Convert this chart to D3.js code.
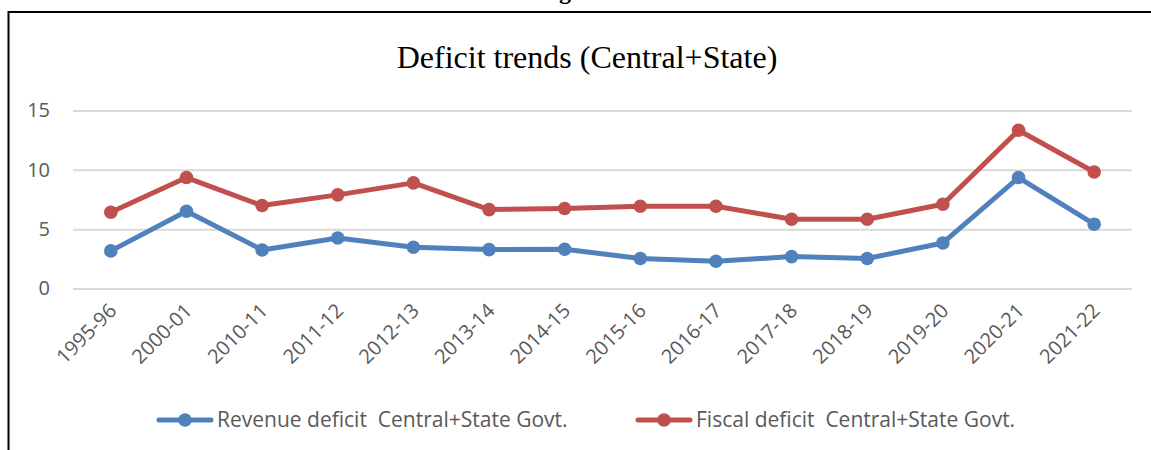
<!DOCTYPE html>
<html lang="en">
<head>
  <meta charset="utf-8">
  <script src="https://d3js.org/d3.v7.min.js"></script>
  <style>
    body { margin: 0; background: #fff; }
  </style>
</head>
<body>
  <div id="chart"></div>
  <script>
    "use strict";

    // dados
    var anos = ["1995-96", "2000-01", "2010-11", "2011-12", "2012-13", "2013-14", "2014-15",
                "2015-16", "2016-17", "2017-18", "2018-19", "2019-20", "2020-21", "2021-22"];
    var revenueDeficit = [3.17, 6.51, 3.25, 4.26, 3.48, 3.28, 3.31, 2.53, 2.30, 2.69, 2.53, 3.84, 9.35, 5.42];
    var fiscalDeficit  = [6.43, 9.35, 6.99, 7.89, 8.90, 6.65, 6.74, 6.93, 6.93, 5.84, 5.84, 7.10, 13.34, 9.82];
    var yTicks = [0, 5, 10, 15];
    var series = [
      { nome: "Revenue deficit  Central+State Govt.", valores: revenueDeficit, cor: "#4f81bd" },
      { nome: "Fiscal deficit  Central+State Govt.", valores: fiscalDeficit, cor: "#c0504d" }
    ];

    var largura = 1151, altura = 450;
    var margin = { left: 73, right: 19 }; // area do grafico
    var fonte = "Open Sans";

    var svg = d3.select("#chart").append("svg")
      .attr("width", largura)
      .attr("height", altura);

    // pedaco do titulo da figura, cortado no topo
    svg.append("text")
      .attr("x", 565).attr("y", -1)
      .attr("text-anchor", "middle")
      .style("font-family", "Liberation Serif")
      .style("font-weight", "bold")
      .style("font-size", "24px")
      .text("g");

    // moldura
    svg.append("path")
      .attr("d", "M8.5,450 V12 H1151")
      .attr("fill", "none")
      .attr("stroke", "#000")
      .attr("stroke-width", 2);

    svg.append("text")
      .attr("x", 587).attr("y", 68)
      .attr("text-anchor", "middle")
      .style("font-family", "Liberation Serif")
      .style("font-size", "32px")
      .attr("fill", "#000")
      .text("Deficit trends (Central+State)");

    var x = d3.scaleBand()
      .domain(anos)
      .range([margin.left, largura - margin.right]);

    var y = d3.scaleLinear()
      .domain([0, 15])
      .range([288.5, 110.5]);

    // linhas de grade + rotulos do eixo y
    var eixoY = d3.axisLeft(y).tickValues(yTicks)
      .tickSize(-(x.range()[1] - x.range()[0]))
      .tickPadding(23);
    var gY = svg.append("g")
      .attr("transform", "translate(" + margin.left + ",0)")
      .call(eixoY);
    gY.select(".domain").remove();
    gY.selectAll(".tick line").attr("stroke", "#d9d9d9").attr("stroke-width", 2);
    gY.selectAll(".tick text")
      .attr("fill", "#595959")
      .style("font-family", fonte)
      .style("font-size", "20px");

    // eixo x com rotulos inclinados
    var eixoX = d3.axisBottom(x).tickSize(0).tickPadding(0);
    var gX = svg.append("g")
      .attr("transform", "translate(0,308)")
      .call(eixoX);
    gX.select(".domain").remove();
    gX.selectAll(".tick text")
      .attr("fill", "#595959")
      .attr("text-anchor", "end")
      .attr("y", 0)
      .attr("dy", "0.35em")
      .attr("transform", "translate(2,-1) rotate(-45)")
      .style("font-family", fonte)
      .style("font-size", "20px");

    var linha = d3.line()
      .x(function(d, i) { return x(anos[i]) + x.bandwidth() / 2; })
      .y(function(d) { return y(d); });

    series.forEach(function(s) {
      svg.append("path")
        .datum(s.valores)
        .attr("fill", "none")
        .attr("stroke", s.cor)
        .attr("stroke-width", 5)
        .attr("stroke-linejoin", "round")
        .attr("d", linha);

      svg.selectAll(null)
        .data(s.valores)
        .enter()
        .append("circle")
        .attr("cx", function(d, i) { return x(anos[i]) + x.bandwidth() / 2; })
        .attr("cy", function(d) { return y(d); })
        .attr("r", 6.8)
        .attr("fill", s.cor);
    });

    // legenda
    var legendaX = [157, 636];
    series.forEach(function(s, i) {
      var g = svg.append("g").attr("transform", "translate(" + legendaX[i] + ",420)");
      g.append("line")
        .attr("x1", 2).attr("x2", 54)
        .attr("stroke", s.cor)
        .attr("stroke-width", 5)
        .attr("stroke-linecap", "round");
      g.append("circle").attr("cx", 28).attr("r", 6.8).attr("fill", s.cor);
      g.append("text")
        .attr("x", 60).attr("y", 0)
        .attr("dy", "0.35em")
        .attr("fill", "#595959")
        .style("font-family", fonte)
        .style("font-size", "21px")
        .style("white-space", "pre")
        .text(s.nome);
    });
  </script>
</body>
</html>
